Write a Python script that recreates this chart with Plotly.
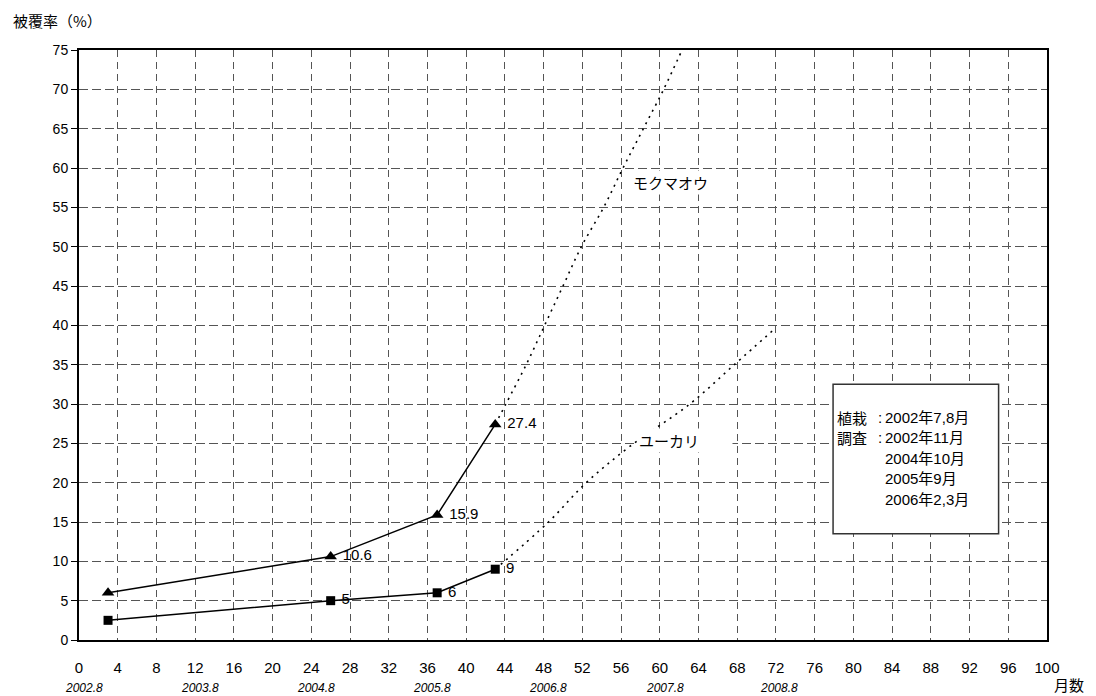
import plotly.graph_objects as go

# ---- data ----
months = [3, 26, 37, 43]
mokumaou = [6, 10.6, 15.9, 27.4]
yukari = [2.5, 5, 6, 9]
mokumaou_labels = ["", "10.6", "15.9", "27.4"]
yukari_labels = ["", "5", "6", "9"]

mokumaou_trend_x = [43, 44.1, 46.2, 48.1, 50, 51.9, 54.2, 56.2, 58.3, 60.4, 62.3]
mokumaou_trend_y = [27.4, 30, 35, 40, 45, 50, 55, 60, 65, 70, 75]
yukari_trend_x = [43, 48.5, 52.4, 56.9, 63.1, 67.7, 72]
yukari_trend_y = [9, 15, 20, 24.6, 30, 35, 39.7]

x_ticks = list(range(0, 101, 4))
y_ticks = list(range(0, 76, 5))
year_pos = [0.5, 12.5, 24.5, 36.5, 48.5, 60.5, 72.3]
year_labels = ["2002.8", "2003.8", "2004.8", "2005.8", "2006.8", "2007.8", "2008.8"]

box_heads = ["植栽", "調査"]
box_dates = ["2002年7,8月", "2002年11月", "2004年10月", "2005年9月", "2006年2,3月"]

FONT = "Liberation Sans, Noto Sans CJK JP, sans-serif"
JFONT = "Noto Sans CJK JP, sans-serif"

fig = go.Figure()

# trend (dotted) lines
fig.add_trace(go.Scatter(x=mokumaou_trend_x, y=mokumaou_trend_y, mode="lines",
                         line=dict(color="black", width=1.6, dash="2px,5px", shape="spline"),
                         hoverinfo="skip", showlegend=False))
fig.add_trace(go.Scatter(x=yukari_trend_x, y=yukari_trend_y, mode="lines",
                         line=dict(color="black", width=1.6, dash="2px,5px", shape="spline"),
                         hoverinfo="skip", showlegend=False))

# measured series
fig.add_trace(go.Scatter(x=months, y=mokumaou, mode="lines+markers+text",
                         text=mokumaou_labels, texttemplate=" %{text}", textposition="middle right",
                         textfont=dict(family=FONT, size=15, color="black"),
                         line=dict(color="black", width=1.5),
                         marker=dict(symbol="triangle-up", size=11, color="black"),
                         showlegend=False))
fig.add_trace(go.Scatter(x=months, y=yukari, mode="lines+markers+text",
                         text=yukari_labels, texttemplate=" %{text}", textposition="middle right",
                         textfont=dict(family=FONT, size=15, color="black"),
                         line=dict(color="black", width=1.5),
                         marker=dict(symbol="square", size=9, color="black"),
                         showlegend=False))

# series name labels (white background)
fig.add_annotation(x=57, y=58.2, xref="x", yref="y", text="モクマオウ", showarrow=False,
                   xanchor="left", yanchor="middle", align="left", width=92, bgcolor="white",
                   font=dict(family=JFONT, size=15, color="black"))
fig.add_annotation(x=57.6, y=25.3, xref="x", yref="y", text="ユーカリ", showarrow=False,
                   xanchor="left", yanchor="middle", align="left", width=92, bgcolor="white",
                   font=dict(family=JFONT, size=15, color="black"))

# info box
fig.add_shape(type="rect", xref="x", yref="y", x0=77.9, x1=95.0, y0=13.5, y1=32.5,
              line=dict(color="#333", width=1.5), fillcolor="white", layer="above")
for i, h in enumerate(box_heads):
    yy = 28.3 - i * 2.6
    fig.add_annotation(x=78.2, y=yy, xref="x", yref="y", text=h, showarrow=False,
                       xanchor="left", yanchor="middle", borderpad=0,
                       font=dict(family=JFONT, size=15, color="black"))
    fig.add_annotation(x=82.75, y=yy, xref="x", yref="y", text=":", showarrow=False,
                       xanchor="center", yanchor="middle", borderpad=0,
                       font=dict(family=FONT, size=15, color="black"))
for i, d in enumerate(box_dates):
    fig.add_annotation(x=83.2, y=28.3 - i * 2.6, xref="x", yref="y", text=d, showarrow=False,
                       xanchor="left", yanchor="middle", borderpad=0,
                       font=dict(family=FONT, size=15, color="black"))

# year labels under x axis
for p, t in zip(year_pos, year_labels):
    fig.add_annotation(x=p, y=0, xref="x", yref="paper", yshift=-48, text=t, showarrow=False,
                       xanchor="center", yanchor="middle",
                       font=dict(family=FONT, size=12, color="black", style="italic"))

# axis titles
fig.add_annotation(x=1, y=0, xref="paper", yref="paper", xshift=22, yshift=-44, text="月数",
                   showarrow=False, xanchor="center", yanchor="middle", borderpad=0,
                   font=dict(family=JFONT, size=15, color="black"))
fig.add_annotation(x=0, y=1, xref="paper", yref="paper", xshift=-68, yshift=30, text="被覆率（%）",
                   showarrow=False, xanchor="left", yanchor="middle",
                   font=dict(family=JFONT, size=15, color="black"))

fig.update_xaxes(range=[0, 100], tickvals=x_ticks, ticktext=[str(v) for v in x_ticks],
                 showgrid=True, gridcolor="#555", gridwidth=1, griddash="7px,5px",
                 showline=True, linecolor="black", linewidth=2, mirror=True,
                 ticks="", ticklabelstandoff=13, zeroline=False,
                 tickfont=dict(family=FONT, size=15, color="black"))
fig.update_yaxes(range=[0, 75], tickvals=y_ticks, ticktext=[str(v) for v in y_ticks],
                 showgrid=True, gridcolor="#555", gridwidth=1, griddash="9px,4px",
                 showline=True, linecolor="black", linewidth=2, mirror=True,
                 ticks="outside", ticklen=6, tickcolor="black", zeroline=False,
                 tickfont=dict(family=FONT, size=14, color="black"))

fig.update_layout(width=1088, height=688, margin=dict(l=71, r=49, t=42, b=56),
                  plot_bgcolor="white", paper_bgcolor="white", showlegend=False)

fig.write_html("out.html")
